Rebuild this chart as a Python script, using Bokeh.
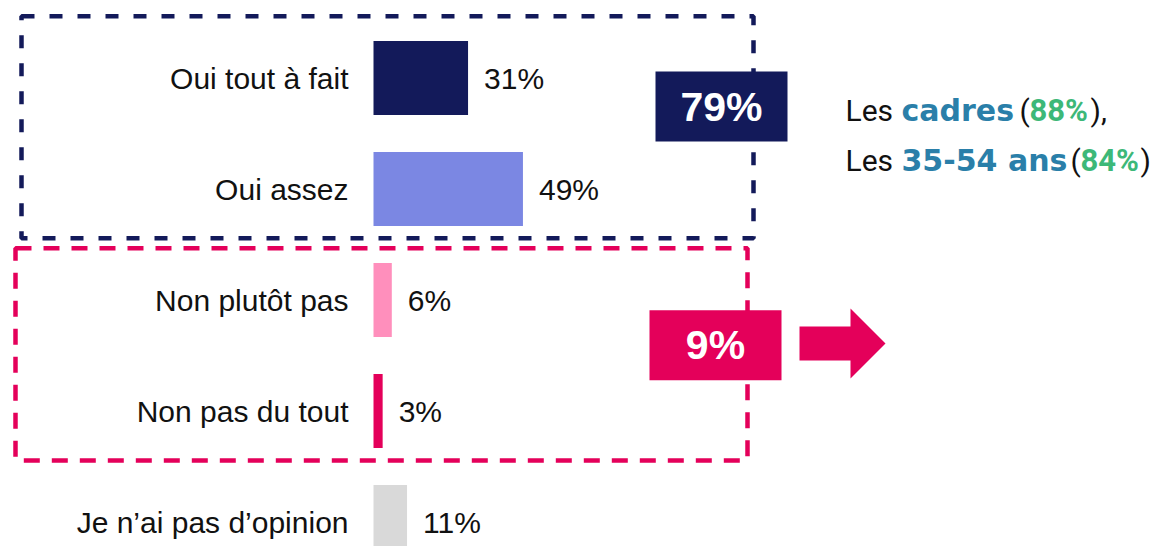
from bokeh.plotting import figure
from bokeh.models import Range1d
from bokeh.core.properties import value
from bokeh.embed import file_html
from bokeh.resources import INLINE

# ---- data ----
categories = ["Oui tout à fait", "Oui assez", "Non plutôt pas", "Non pas du tout", "Je n’ai pas d’opinion"]
values = [31, 49, 6, 3, 11]
value_labels = ["31%", "49%", "6%", "3%", "11%"]
bar_colors = ["#131A5A", "#7B87E3", "#FF8FBC", "#E4005A", "#D9D9D9"]
group_labels = ["79%", "9%"]
group_colors = ["#131A5A", "#E4005A"]
line1_segments = ["Les", "cadres", "(", "88%", "),"]
line2_segments = ["Les", "35-54 ans", "(", "84%", ")"]

# ---- layout helpers (reference pixel -> data units) ----
PX = 3.05      # pixels per percent
X0 = 373       # x of 0 %
ROW0 = 77.5    # y of first row centre
ROWH = 111     # pixels between rows
W, H = 1150, 546

def sx(px):
    return (px - X0) / PX

def sy(py):
    return (py - ROW0) / ROWH

p = figure(width=W, height=H, output_backend="svg", toolbar_location=None,
           x_range=Range1d(sx(0), sx(W)),
           y_range=Range1d(sy(H), sy(0)),
           min_border=0, background_fill_color="white", border_fill_color="white")
p.axis.visible = False
p.grid.visible = False
p.outline_line_color = None

rows = list(range(len(categories)))

# dashed group boxes
p.quad(left=[sx(21)], right=[sx(753)], top=[sy(15.7)], bottom=[sy(237.7)],
       fill_color=None, line_color="#131A5A", line_width=4.5, line_dash="13 15")
p.quad(left=[sx(15)], right=[sx(747)], top=[sy(247.7)], bottom=[sy(460)],
       fill_color=None, line_color="#E4005A", line_width=4.5, line_dash="16 12")

# bars
p.hbar(y=rows, left=0, right=values, height=0.667, fill_color=bar_colors, line_color=None)

# category labels
p.text(x=[0] * len(rows), y=rows, text=categories, x_offset=-25,
       text_align="right", text_baseline="middle",
       text_font=value("Liberation Sans"), text_font_size="30px", text_color="#111111")

# value labels
p.text(x=values, y=rows, text=value_labels, x_offset=16,
       text_align="left", text_baseline="middle",
       text_font=value("Liberation Sans"), text_font_size="30px", text_color="#111111")

# group totals boxes
gx = [sx(721), sx(715)]
gy = [sy(106), sy(344.7)]
p.rect(x=gx, y=gy, width=132, height=70, width_units="screen", height_units="screen",
       fill_color=group_colors, line_color=None)
p.text(x=gx, y=gy, text=group_labels, text_align="center", text_baseline="middle",
       text_font=value("Liberation Sans"), text_font_style="bold",
       text_font_size="41px", text_color="white")

# arrow
ax = [799, 850, 850, 885, 850, 850, 799]
ay = [326, 326, 308, 343, 378, 360, 360]
p.patch(x=[sx(v) for v in ax], y=[sy(v) for v in ay], fill_color="#E4005A", line_color=None)

# right-hand annotation
styles = [
    dict(font="Roboto", style="normal", size="30px", color="#111111"),
    dict(font="DejaVu Sans", style="bold", size="30px", color="#2A7FA9"),
    dict(font="Roboto", style="normal", size="30px", color="#111111"),
    dict(font="Roboto", style="bold", size="31px", color="#3DB878"),
    dict(font="Roboto", style="normal", size="30px", color="#111111"),
]
line1_x = [845, 901, 1019, 1029, 1090]
line2_x = [845, 901, 1070, 1080, 1140]
for segs, xs, base in [(line1_segments, line1_x, 110), (line2_segments, line2_x, 160)]:
    for t, xpos, st in zip(segs, xs, styles):
        p.text(x=[sx(xpos)], y=[sy(base)], text=[t], text_align="left",
               text_baseline="alphabetic", text_font=value(st["font"]),
               text_font_style=st["style"], text_font_size=st["size"],
               text_color=st["color"])

open("out.html", "w").write(file_html(p, INLINE))
